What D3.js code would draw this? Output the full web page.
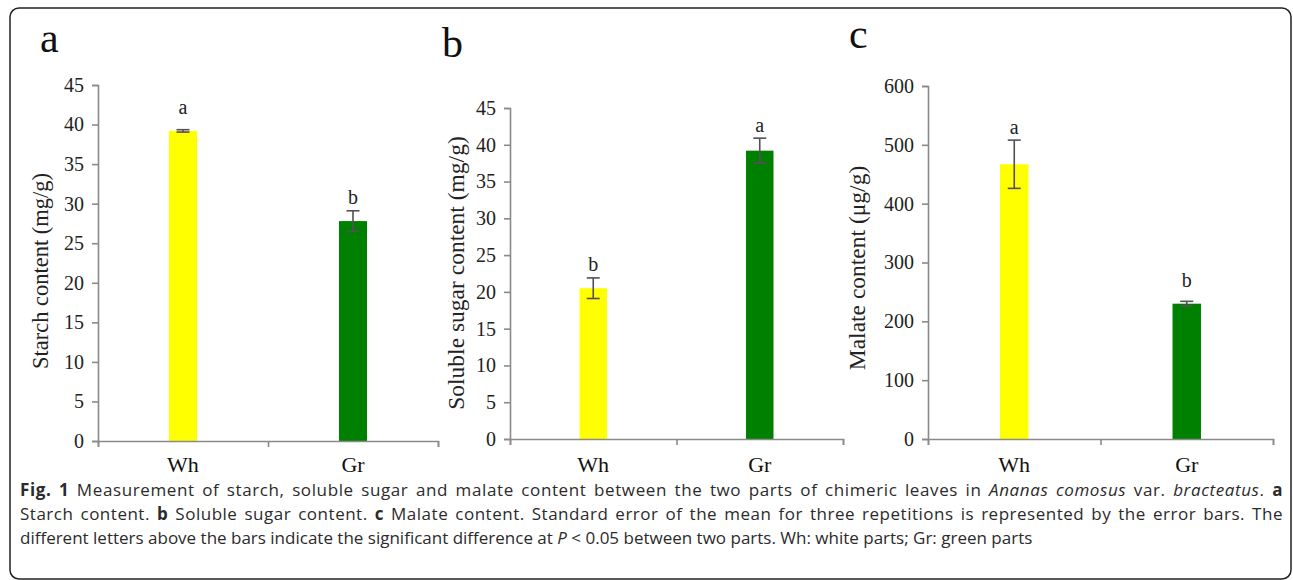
<!DOCTYPE html>
<html>
<head>
<meta charset="utf-8">
<script src="https://cdn.jsdelivr.net/npm/d3@7"></script>
<style>
  body { margin: 0; background: #fff; }
  svg { display: block; }
  .tick text { font-family: 'Liberation Serif', 'Times New Roman', serif; font-size: 20px; fill: #222; }
  .axis path, .axis line { stroke: #8a8a8a; stroke-width: 1.6; }
  .caption { font-family: 'Open Sans', sans-serif; font-size: 17px; fill: #2b2b2b; }
</style>
</head>
<body>
<svg id="fig" width="1293" height="580"></svg>
<script>
// values
const categories = ['Wh', 'Gr']
const barColors = ['#ffff00', '#008000']

const starchMeans = [39.2, 27.8]
const starchErrors = [0.15, 1.3]
const starchLetters = ['a', 'b']
const starchTicks = [0, 5, 10, 15, 20, 25, 30, 35, 40, 45]

const sugarMeans = [20.5, 39.2]
const sugarErrors = [1.4, 1.7]
const sugarLetters = ['b', 'a']
const sugarTicks = [0, 5, 10, 15, 20, 25, 30, 35, 40, 45]

const malateMeans = [467, 230]
const malateErrors = [41, 4]
const malateLetters = ['a', 'b']
const malateTicks = [0, 100, 200, 300, 400, 500, 600]

class BarPanel {
    constructor(_config, _data) {
        this.config = {
            parentElement: _config.parentElement,
            left: _config.left,
            top: _config.top,
            width: _config.width,
            height: _config.height,
            ticks: _config.ticks,
            yLabel: _config.yLabel,
            yLabelX: _config.yLabelX,
            yLabelY: _config.yLabelY,
            yLabelSize: _config.yLabelSize || 22,
            panel: _config.panel,
            panelX: _config.panelX,
            panelY: _config.panelY
        }
        this.data = _data
        this.initVis()
    }

    initVis() {
        let vis = this
        let svg = d3.select(vis.config.parentElement)

        svg.append('text')
            .attr('x', vis.config.panelX)
            .attr('y', vis.config.panelY)
            .attr('font-family', 'Liberation Serif, serif')
            .attr('font-size', 42)
            .attr('fill', '#111')
            .text(vis.config.panel)

        svg.append('text')
            .attr('transform', `translate(${vis.config.yLabelX},${vis.config.yLabelY}) rotate(-90)`)
            .attr('text-anchor', 'middle')
            .attr('font-family', 'Liberation Serif, serif')
            .attr('font-size', vis.config.yLabelSize)
            .attr('fill', '#222')
            .text(vis.config.yLabel)

        vis.chart = svg.append('g')
            .attr('transform', `translate(${vis.config.left},${vis.config.top})`)

        vis.xScale = d3.scaleBand()
            .domain(categories)
            .range([0, vis.config.width])
            .paddingInner(0.835)
            .paddingOuter(0.4175)
        // boundary ticks between categories
        vis.xTickScale = d3.scaleLinear()
            .domain([0, categories.length])
            .range([0, vis.config.width])
        vis.yScale = d3.scaleLinear()
            .domain(d3.extent(vis.config.ticks))
            .range([vis.config.height, 0])

        vis.updateVis()
    }

    updateVis() {
        let vis = this
        vis.rows = categories.map((c, i) => ({
            cat: c, mean: vis.data.means[i], err: vis.data.errors[i],
            letter: vis.data.letters[i], color: barColors[i]
        }))
        vis.renderVis()
    }

    renderVis() {
        let vis = this
        let bw = vis.xScale.bandwidth()
        let cx = d => vis.xScale(d.cat) + bw / 2

        vis.chart.selectAll('.bar')
            .data(vis.rows)
            .join('rect')
                .attr('class', 'bar')
                .attr('x', d => vis.xScale(d.cat))
                .attr('width', bw)
                .attr('y', d => vis.yScale(d.mean))
                .attr('height', d => vis.yScale(0) - vis.yScale(d.mean))
                .attr('fill', d => d.color)

        let err = vis.chart.selectAll('.err')
            .data(vis.rows)
            .join('g')
                .attr('class', 'err')
                .attr('stroke', '#574e5c')
                .attr('stroke-width', 1.6)
        err.append('line')
            .attr('x1', cx).attr('x2', cx)
            .attr('y1', d => vis.yScale(d.mean + d.err))
            .attr('y2', d => vis.yScale(d.mean - d.err))
        err.append('line')
            .attr('x1', d => cx(d) - 6.5).attr('x2', d => cx(d) + 6.5)
            .attr('y1', d => vis.yScale(d.mean + d.err))
            .attr('y2', d => vis.yScale(d.mean + d.err))
        err.append('line')
            .attr('x1', d => cx(d) - 6.5).attr('x2', d => cx(d) + 6.5)
            .attr('y1', d => vis.yScale(d.mean - d.err))
            .attr('y2', d => vis.yScale(d.mean - d.err))

        vis.chart.selectAll('.letter')
            .data(vis.rows)
            .join('text')
                .attr('class', 'letter')
                .attr('x', cx)
                .attr('y', d => Math.min(vis.yScale(d.mean) - 17, vis.yScale(d.mean + d.err) - 6))
                .attr('text-anchor', 'middle')
                .attr('font-family', 'Liberation Serif, serif')
                .attr('font-size', 20)
                .attr('fill', '#222')
                .text(d => d.letter)

        vis.chart.append('g')
            .attr('class', 'axis y-axis')
            .call(d3.axisLeft(vis.yScale).tickValues(vis.config.ticks).tickSize(6).tickPadding(8))

        vis.chart.append('g')
            .attr('class', 'axis x-axis')
            .attr('transform', `translate(0,${vis.config.height})`)
            .call(d3.axisBottom(vis.xTickScale).ticks(categories.length).tickFormat('').tickSize(6))

        vis.chart.selectAll('.cat')
            .data(vis.rows)
            .join('text')
                .attr('class', 'cat')
                .attr('x', cx)
                .attr('y', 472 - vis.config.top)
                .attr('text-anchor', 'middle')
                .attr('font-family', 'Liberation Serif, serif')
                .attr('font-size', 22)
                .attr('fill', '#111')
                .text(d => d.cat)
    }
}

let svg = d3.select('#fig')

svg.append('rect')
    .attr('x', 10).attr('y', 8)
    .attr('width', 1281).attr('height', 571)
    .attr('rx', 9)
    .attr('fill', 'none')
    .attr('stroke', '#222')
    .attr('stroke-width', 1.5)

new BarPanel({parentElement: '#fig', left: 98, top: 85, width: 340, height: 356, ticks: starchTicks,
    yLabel: 'Starch content (mg/g)', yLabelX: 48, yLabelY: 271, yLabelSize: 22.5,
    panel: 'a', panelX: 40, panelY: 52},
    {means: starchMeans, errors: starchErrors, letters: starchLetters})

new BarPanel({parentElement: '#fig', left: 510, top: 108, width: 333, height: 331, ticks: sugarTicks,
    yLabel: 'Soluble sugar content (mg/g)', yLabelX: 464, yLabelY: 273, yLabelSize: 23.5,
    panel: 'b', panelX: 442, panelY: 57},
    {means: sugarMeans, errors: sugarErrors, letters: sugarLetters})

new BarPanel({parentElement: '#fig', left: 928, top: 86, width: 345, height: 353, ticks: malateTicks,
    yLabel: 'Malate content (\u03bcg/g)', yLabelX: 865, yLabelY: 268, yLabelSize: 23.5,
    panel: 'c', panelX: 849, panelY: 48},
    {means: malateMeans, errors: malateErrors, letters: malateLetters})

// caption, first two lines justified
const captionLines = [
    [['Fig. 1', 'b'], [' Measurement of starch, soluble sugar and malate content between the two parts of chimeric leaves in '],
     ['Ananas comosus', 'i'], [' var. '], ['bracteatus', 'i'], ['. '], ['a', 'b']],
    [['Starch content. '], ['b', 'b'], [' Soluble sugar content. '], ['c', 'b'],
     [' Malate content. Standard error of the mean for three repetitions is represented by the error bars. The']],
    [['different letters above the bars indicate the significant difference at '], ['P', 'i'],
     [' < 0.05 between two parts. Wh: white parts; Gr: green parts']]
]
const captionRight = 1283

captionLines.forEach((line, i) => {
    let t = svg.append('text')
        .attr('class', 'caption')
        .attr('x', 20)
        .attr('y', 496 + i * 24)
    line.forEach(seg => {
        t.append('tspan')
            .attr('font-weight', seg[1] === 'b' ? 700 : null)
            .attr('font-style', seg[1] === 'i' ? 'italic' : null)
            .text(seg[0])
    })
    if (i < 2) {
        // spread the slack over letters and spaces
        let w = t.node().getComputedTextLength()
        let str = line.map(s => s[0]).join('')
        let spaces = str.split(' ').length - 1
        let extra = captionRight - 20 - w
        let ls = extra * 0.6 / (str.length - 1)
        t.attr('letter-spacing', ls)
        let w2 = t.node().getComputedTextLength()
        t.attr('word-spacing', (captionRight - 20 - w2) / spaces)
    }
})
</script>
</body>
</html>
